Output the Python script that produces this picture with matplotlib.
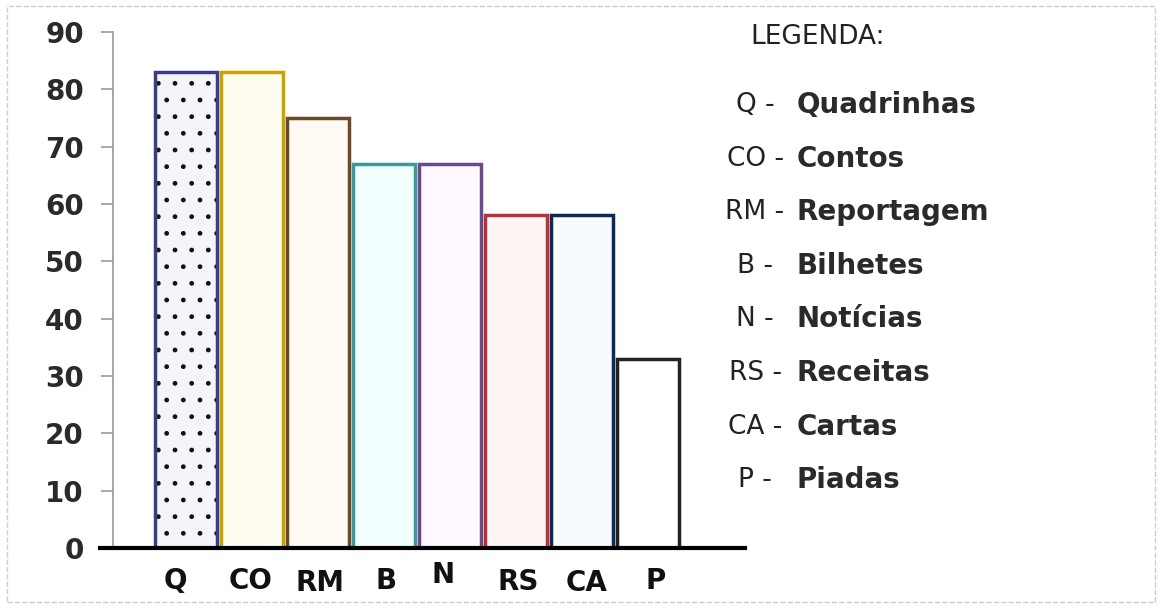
import matplotlib.pyplot as plt
from matplotlib.patches import Rectangle

# dados do grafico
siglas = ["Q", "CO", "RM", "B", "N", "RS", "CA", "P"]
nomes = ["Quadrinhas", "Contos", "Reportagem", "Bilhetes",
         "Notícias", "Receitas", "Cartas", "Piadas"]
valores = [83, 83, 75, 67, 67, 58, 58, 33]

# estilo de cada barra
bordas = ["#3c3c85", "#c9a400", "#6b4a2a", "#3a9a9a",
          "#6a4a8a", "#b8323c", "#0d2a55", "#222222"]
fundos = ["#f4f4fb", "#fffdf0", "#fffaf3", "#f3ffff",
          "#fff8ff", "#fff5f5", "#f5fbff", "#ffffff"]
# pequenos deslocamentos dos rotulos (px)
desl_x = [-11, -1, 2, 2, -7, 2, 5, 8]
desl_y = [0, 0, -2, 0, 6, -1, -2, 0]

W, H = 1162, 606
plt.rcParams["hatch.linewidth"] = 1.0
fig = plt.figure(figsize=(W / 100, H / 100), dpi=100)
fig.patch.set_facecolor("white")

ax = fig.add_axes([113 / W, (H - 548) / H, (745 - 113) / W, (548 - 32) / H])
pos = list(range(len(valores)))
for i in pos:
    if i == 0:
        # pontinhos pretos no fundo da primeira barra
        ax.bar(i, valores[i], width=0.95, color=fundos[i], edgecolor="#111111",
               linewidth=0, hatch=".", zorder=2)
        ax.bar(i, valores[i], width=0.95, fill=False, edgecolor=bordas[i],
               linewidth=2.5, zorder=3)
    else:
        ax.bar(i, valores[i], width=0.95, color=fundos[i], edgecolor=bordas[i],
               linewidth=2.5, zorder=2)

ax.set_xlim(-1.106, 8.47)
ax.set_ylim(0, 90)
ax.set_yticks(range(0, 91, 10))
ax.tick_params(axis="y", direction="out", length=9, width=1.2, color="#999999",
               pad=12, labelsize=20, labelcolor="#2a2a2a")
for lab in ax.get_yticklabels():
    lab.set_fontweight("bold")
ax.set_xticks([])
for s in ["top", "right", "bottom"]:
    ax.spines[s].set_visible(False)
ax.spines["left"].set_color("#999999")
ax.spines["left"].set_linewidth(1.2)

# linha do eixo x
ax.axhline(0, xmin=-13 / 632, xmax=1, color="black", linewidth=3, clip_on=False, zorder=5)

# rotulos do eixo x
for i in pos:
    ax.annotate(siglas[i], xy=(i, 0), xycoords="data",
                xytext=(desl_x[i] * 0.72, -24 + desl_y[i] * 0.72), textcoords="offset points",
                ha="center", va="center", fontsize=20, fontweight="bold", color="#111111")

# legenda
fig.text(750 / W, 1 - 37 / H, "LEGENDA:", fontsize=19, color="#222222",
         ha="left", va="center")
for k in range(len(siglas)):
    y = 1 - (105 + k * 53.6) / H
    fig.text(755 / W, y, siglas[k] + " -", fontsize=19, color="#222222",
             ha="center", va="center")
    fig.text(797 / W, y, nomes[k], fontsize=20, fontweight="bold", color="#2a2a2a",
             ha="left", va="center")

# moldura tracejada
fig.patches.append(Rectangle((7 / W, 4 / H), (W - 14) / W, (H - 10) / H,
                             transform=fig.transFigure, fill=False,
                             edgecolor="#cccccc", linestyle="--", linewidth=1))

fig.savefig("out.png", dpi=100)
